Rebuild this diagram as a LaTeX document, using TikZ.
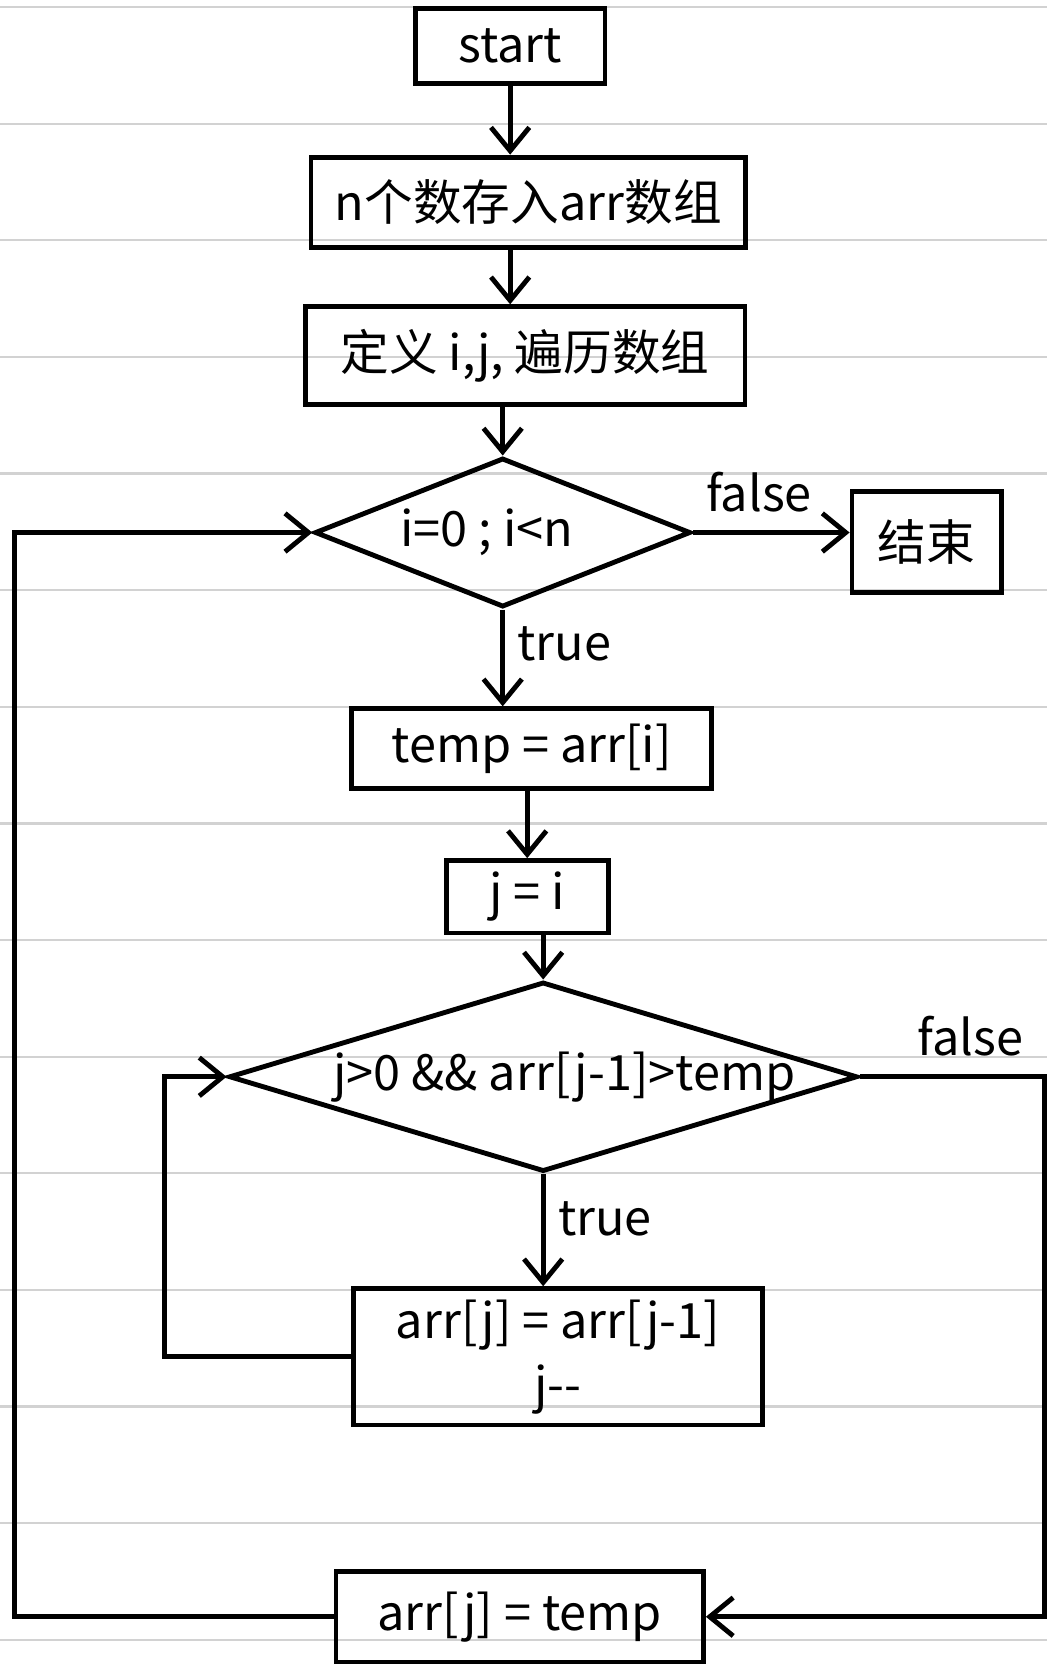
\documentclass[tikz,border=0pt]{standalone}
\usepackage{fontspec}
\setmainfont{Noto Sans CJK SC}
\usetikzlibrary{shapes.geometric,arrows.meta}

\begin{document}
\begin{tikzpicture}[x=1mm,y=-1mm]
      \tikzstyle{every node}=[font=\fontsize{13}{17}\selectfont]
      \tikzstyle{box}=[draw,rectangle,line width=1.3pt,inner sep=0pt]
      \tikzstyle{cond}=[draw,diamond,line width=1.3pt,inner sep=0pt]
      \tikzstyle{flow}=[line width=1.3pt,-{Straight Barb[length=2.2mm,width=3.6mm]}]
      \useasboundingbox (0,0) rectangle (98.3,156.8);
      %% ruled paper
      \foreach \k in {0,...,14}
        \draw[gray!35,line width=0.6pt] (0,{0.66+10.95*\k}) -- (98.3,{0.66+10.95*\k});
      % start
      \node (start) at (47.9,4.3) [box,minimum width=17.8mm,minimum height=7mm] {start};
      \node (input) at (49.6,19.0) [box,minimum width=40.8mm,minimum height=8.5mm] {n个数存入arr数组};
      \node (init) at (49.3,33.4) [box,minimum width=41.3mm,minimum height=9.2mm] {定义 i,j, 遍历数组};
      \draw[flow] (start.south) -- (start.south |- input.north);
      \draw[flow] (input.south -| start) -- (start |- init.north);
      % outer loop
      \node (outer) at (47.2,50) [cond,minimum width=35.3mm,minimum height=14mm] {\makebox[0pt]{\raisebox{-1mm}{i=0 ; i<n}\hspace*{3mm}}};
      \node (end) at (87,50.9) [box,minimum width=14mm,minimum height=9.5mm] {结束};
      \draw[flow] (outer.north |- init.south) -- (outer.north);
      \draw[flow] (outer.east) -- (outer.east -| end.west) node[pos=0.42,above=0.5mm] {false};
      \node (temp) at (49.9,70.3) [box,minimum width=33.8mm,minimum height=7.5mm] {temp = arr[i]};
      \draw[flow] (outer.south) -- (outer.south |- temp.north) node[pos=0.35,right] {true};
      \node (setj) at (49.5,84.2) [box,minimum width=15.2mm,minimum height=6.8mm] {j = i};
      \draw[flow] (temp.south -| setj) -- (setj.north);
      % inner loop
      \node (inner) at (51,101.1) [cond,minimum width=59mm,minimum height=17.8mm] {\makebox[0pt]{\hspace*{4mm}j>0 \&\& arr[j-1]>temp}};
      \draw[flow] (setj.south -| inner.north) -- (inner.north);
      \node (shift) at (52.4,127.4) [box,minimum width=38.4mm,minimum height=12.8mm,align=center] {arr[j] = arr[j-1]\\j-{}-};
      \draw[flow] (inner.south) -- (inner.south |- shift.north) node[pos=0.4,right] {true};
      \draw[flow] (shift.west) -- ++(-17.5,0) |- (inner.west);
      % store
      \node (store) at (48.8,151.8) [box,minimum width=34.5mm,minimum height=8.5mm] {arr[j] = temp};
      \draw[flow] (inner.east) -- ++(17.3,0) node[pos=0.6,above=0.5mm] {false} |- (store.east);
      \draw[flow] (store.west) -- ++(-30,0) |- (outer.west);
\end{tikzpicture}
\end{document}
